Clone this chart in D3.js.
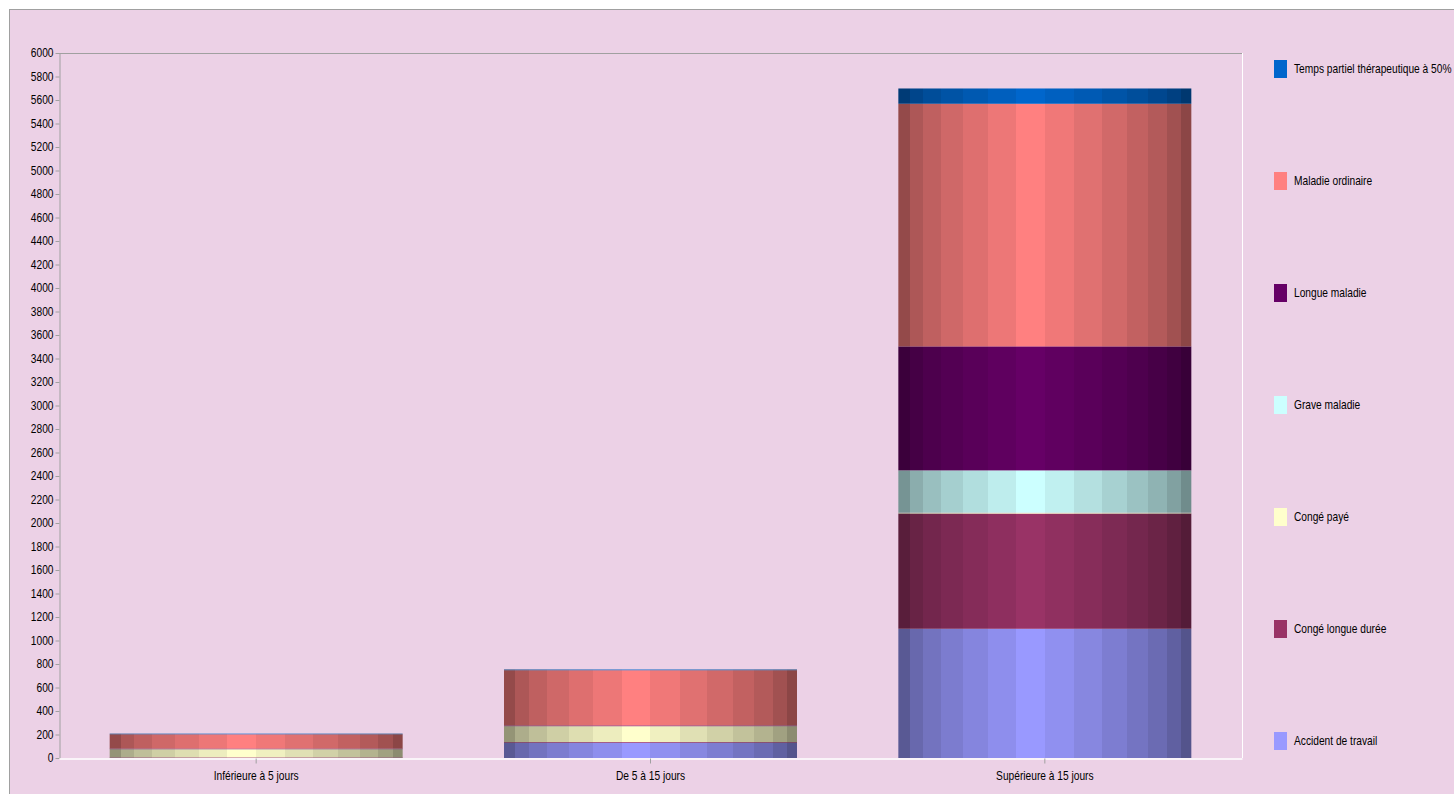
<!DOCTYPE html>
<html>
<head>
<meta charset="utf-8">
<script src="https://cdn.jsdelivr.net/npm/d3@7"></script>
<style>
  body { margin: 0; background: #fff; }
  text { font-family: "Liberation Sans", Arial, sans-serif; font-size: 12px; fill: #000; }
</style>
</head>
<body>
<svg id="chart"></svg>
<script>
const width = 1454;
const height = 794;
const squeeze = 0.85; // the reference uses a narrow face

// data
const categories = ['Inférieure à 5 jours', 'De 5 à 15 jours', 'Supérieure à 15 jours'];
const seriesNames = ['Accident de travail', 'Congé longue durée', 'Congé payé', 'Grave maladie',
  'Longue maladie', 'Maladie ordinaire', 'Temps partiel thérapeutique à 50%'];
const seriesColors = ['#9999FF', '#993366', '#FFFFCC', '#CCFFFF', '#660066', '#FF8080', '#0066CC'];
const accidentTravail = [0, 130, 1100];
const congeLongueDuree = [5, 6, 980];
const congePaye = [70, 135, 8];
const graveMaladie = [0, 0, 360];
const longueMaladie = [5, 6, 1055];
const maladieOrdinaire = [122, 470, 2065];
const tempsPartiel = [5, 6, 130];
const yTicks = d3.range(0, 6001, 200);

const seriesValues = [accidentTravail, congeLongueDuree, congePaye, graveMaladie,
  longueMaladie, maladieOrdinaire, tempsPartiel];

const rows = categories.map((c, i) => {
  const r = { cat: c };
  seriesNames.forEach((s, j) => r[s] = seriesValues[j][i]);
  return r;
});
const stacked = d3.stack().keys(seriesNames)(rows);

const svg = d3.select('#chart')
  .attr('width', width)
  .attr('height', height);

// outer frame
svg.append('rect')
  .attr('x', 9.5).attr('y', 9.5)
  .attr('width', width).attr('height', height)
  .attr('fill', '#ECD1E6')
  .attr('stroke', '#A0A0A0');

const plot = { left: 59, right: 1242, top: 53, bottom: 758 };

const x = d3.scaleBand()
  .domain(categories)
  .range([plot.left, plot.right])
  .paddingInner(0.257)
  .paddingOuter(0.1285);

const y = d3.scaleLinear()
  .domain([0, 6000])
  .range([plot.bottom, plot.top]);

// cylinder-like vertical shading bands
const bandEdges = [0, .039, .084, .146, .222, .305, .402, .50, .60, .694, .781, .853, .917, .966, 1];
const bandShade = [.58, .68, .75, .81, .87, .93, 1.0, .94, .88, .82, .76, .70, .63, .55];

const defs = svg.append('defs');
seriesColors.forEach((col, i) => {
  const g = defs.append('linearGradient')
    .attr('id', 'grad' + i)
    .attr('x1', 0).attr('x2', 1).attr('y1', 0).attr('y2', 0);
  const base = d3.rgb(col);
  bandShade.forEach((k, b) => {
    const c = d3.rgb(base.r * k, base.g * k, base.b * k).formatHex();
    g.append('stop').attr('offset', bandEdges[b]).attr('stop-color', c);
    g.append('stop').attr('offset', bandEdges[b + 1]).attr('stop-color', c);
  });
});

// plot frame: gray top/left, white bottom/right
svg.append('line')
  .attr('x1', plot.left).attr('x2', plot.right)
  .attr('y1', plot.top + 0.5).attr('y2', plot.top + 0.5)
  .attr('stroke', '#A0A0A0');
svg.append('line')
  .attr('x1', plot.right + 0.5).attr('x2', plot.right + 0.5)
  .attr('y1', plot.top).attr('y2', plot.bottom)
  .attr('stroke', '#fff');

// bars
svg.selectAll('.series')
  .data(stacked)
  .enter().append('g')
  .attr('class', 'series')
  .attr('fill', (d, i) => 'url(#grad' + i + ')')
  .selectAll('rect')
  .data(d => d)
  .enter().append('rect')
  .attr('x', d => x(d.data.cat))
  .attr('width', x.bandwidth())
  .attr('y', d => y(d[1]))
  .attr('height', d => y(d[0]) - y(d[1]));

// y axis
const yAxis = svg.append('g')
  .attr('transform', `translate(${plot.left + 0.5},0)`)
  .call(d3.axisLeft(y).tickValues(yTicks).tickFormat(d3.format('d')).tickSize(4).tickPadding(2).tickSizeOuter(0));
yAxis.select('.domain').attr('stroke', '#A0A0A0');
yAxis.selectAll('.tick line').attr('stroke', '#A0A0A0');
yAxis.selectAll('text')
  .style('font-size', '12px')
  .attr('x', -6 / squeeze)
  .attr('transform', `scale(${squeeze},1)`);

// x axis
const xAxis = svg.append('g')
  .attr('transform', `translate(0,${plot.bottom + 0.5})`)
  .call(d3.axisBottom(x).tickSize(5).tickPadding(8).tickSizeOuter(0));
xAxis.select('.domain').attr('stroke', '#fff').attr('stroke-width', 1.5);
xAxis.selectAll('.tick line').attr('stroke', '#A0A0A0');
xAxis.selectAll('text')
  .style('font-size', '12px')
  .attr('transform', `scale(${squeeze},1)`);

// legend, top entry is the last series
const legend = svg.append('g')
  .selectAll('g')
  .data(seriesNames.map((s, i) => ({ name: s, color: seriesColors[i] })).reverse())
  .enter().append('g')
  .attr('transform', (d, i) => `translate(1274,${60 + i * 112})`);

legend.append('rect')
  .attr('width', 13)
  .attr('height', 18)
  .attr('fill', d => d.color);

legend.append('text')
  .attr('x', 20 / squeeze)
  .attr('y', 9)
  .attr('dy', '0.35em')
  .attr('transform', `scale(${squeeze},1)`)
  .text(d => d.name);
</script>
</body>
</html>
